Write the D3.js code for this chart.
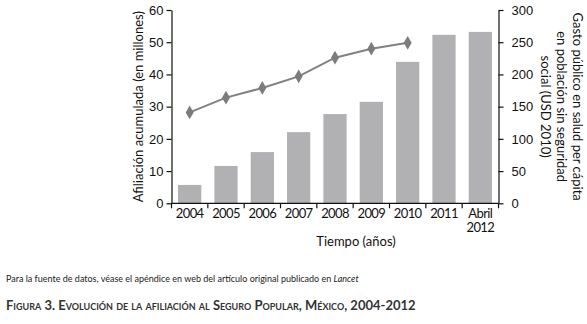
<!DOCTYPE html>
<html>
<head>
<meta charset="utf-8">
<script src="https://cdn.jsdelivr.net/npm/d3@7"></script>
<style>
  body { margin: 0; background: #fff; }
  svg { display: block; font-family: Lato, "Open Sans", sans-serif; }
  .axis text { font-size: 13px; fill: #111; }
  .axis path, .axis line { stroke: #111; stroke-width: 1.2; }
  .xaxis text { font-size: 13px; letter-spacing: -0.6px; }
</style>
</head>
<body>
<div id="chart"></div>
<script>
var years = ['2004', '2005', '2006', '2007', '2008', '2009', '2010', '2011', 'Abril 2012'];
var afiliacion = [5.7, 11.6, 15.9, 22.1, 27.7, 31.5, 43.9, 52.3, 53.2];
var gastoYears = ['2004', '2005', '2006', '2007', '2008', '2009', '2010'];
var gasto = [141, 164, 179, 197, 226, 240, 249];
var leftTicks = [0, 10, 20, 30, 40, 50, 60];
var rightTicks = [0, 50, 100, 150, 200, 250, 300];

var w = 587, h = 324;
var plotLeft = 171.5, plotRight = 498.5, plotTop = 10, plotBottom = 203.3;

var svg = d3.select('#chart').append('svg')
  .attr('width', w)
  .attr('height', h);

var x = d3.scaleBand()
  .domain(years)
  .range([plotLeft, plotRight])
  .paddingInner(0.36)
  .paddingOuter(0.18);

var yL = d3.scaleLinear().domain([0, 60]).range([plotBottom, plotTop]);
var yR = d3.scaleLinear().domain([0, 300]).range([plotBottom, plotTop]);

// bars
svg.selectAll('rect.bar')
  .data(afiliacion)
  .enter()
  .append('rect')
    .attr('class', 'bar')
    .attr('x', (d, i) => x(years[i]))
    .attr('y', d => yL(d))
    .attr('width', x.bandwidth())
    .attr('height', d => plotBottom - yL(d))
    .attr('fill', '#b1b1b4');

// line
var line = d3.line()
  .x((d, i) => x(gastoYears[i]) + x.bandwidth() / 2)
  .y(d => yR(d));

svg.append('path')
  .attr('d', line(gasto))
  .attr('fill', 'none')
  .attr('stroke', '#818181')
  .attr('stroke-width', 2);

svg.selectAll('path.pt')
  .data(gasto)
  .enter()
  .append('path')
    .attr('class', 'pt')
    .attr('d', d3.symbol().type(d3.symbolDiamond).size(55))
    .attr('transform', (d, i) => 'translate(' + (x(gastoYears[i]) + x.bandwidth() / 2) + ',' + yR(d) + ')')
    .attr('fill', '#7c7c7c');

// left axis
svg.append('g')
  .attr('class', 'axis')
  .attr('transform', 'translate(' + plotLeft + ',0)')
  .call(d3.axisLeft(yL).tickValues(leftTicks).tickSize(5).tickSizeOuter(0).tickPadding(3));

// right axis
svg.append('g')
  .attr('class', 'axis')
  .attr('transform', 'translate(' + plotRight + ',0)')
  .call(d3.axisRight(yR).tickValues(rightTicks).tickSize(5).tickSizeOuter(0).tickPadding(8));

// x axis: ticks at band boundaries
var step = x.step();
var bounds = years.map((d, i) => x(d) - x.paddingInner() * step / 2).concat([plotRight]);
var gx = svg.append('g')
  .attr('class', 'axis xaxis')
  .attr('transform', 'translate(0,' + plotBottom + ')');
gx.append('path').attr('d', 'M' + plotLeft + ',0H' + plotRight);
gx.selectAll('line')
  .data(bounds)
  .enter()
  .append('line')
    .attr('x1', d => d).attr('x2', d => d)
    .attr('y1', 0).attr('y2', 5);
gx.selectAll('text')
  .data(years)
  .enter()
  .append('text')
    .attr('text-anchor', 'middle')
    .attr('transform', d => 'translate(' + (x(d) + x.bandwidth() / 2) + ',15)')
    .each(function(d) {
      var parts = d.split(' ');
      d3.select(this).selectAll('tspan')
        .data(parts)
        .enter()
        .append('tspan')
          .attr('x', 0)
          .attr('dy', (p, j) => j === 0 ? 0 : 14)
          .text(p => p);
    });

// axis titles
svg.append('text')
  .attr('transform', 'translate(143,' + ((plotTop + plotBottom) / 2) + ') rotate(-90)')
  .attr('text-anchor', 'middle')
  .style('font-size', '13px')
  .attr('fill', '#111')
  .text('Afiliación acumulada (en millones)');

var rTitle = ['Gasto público en salud per cápita', 'en población sin seguridad', 'social (USD 2010)'];
svg.append('text')
  .attr('transform', 'translate(573,' + ((plotTop + plotBottom) / 2) + ') rotate(90)')
  .attr('text-anchor', 'middle')
  .style('font-size', '13px')
  .attr('fill', '#111')
  .selectAll('tspan')
  .data(rTitle)
  .enter()
  .append('tspan')
    .attr('x', 0)
    .attr('dy', (d, i) => i === 0 ? 0 : 16)
    .text(d => d);

svg.append('text')
  .attr('x', 356)
  .attr('y', 246)
  .attr('text-anchor', 'middle')
  .style('font-size', '13px')
  .attr('fill', '#111')
  .text('Tiempo (años)');

// footnote
var note = svg.append('text')
  .attr('x', 6)
  .attr('y', 282)
  .style('font-size', '9px')
  .attr('fill', '#222');
note.append('tspan').text('Para la fuente de datos, véase el apéndice en web del artículo original publicado en ');
note.append('tspan').style('font-style', 'italic').text('Lancet');

// figure caption
svg.append('text')
  .attr('x', 6)
  .attr('y', 310)
  .style('font-size', '13px')
  .style('font-weight', 'bold')
  .style('font-variant', 'small-caps')
  .attr('fill', '#333')
  .text('Figura 3. Evolución de la afiliación al Seguro Popular, México, 2004-2012');
</script>
</body>
</html>
